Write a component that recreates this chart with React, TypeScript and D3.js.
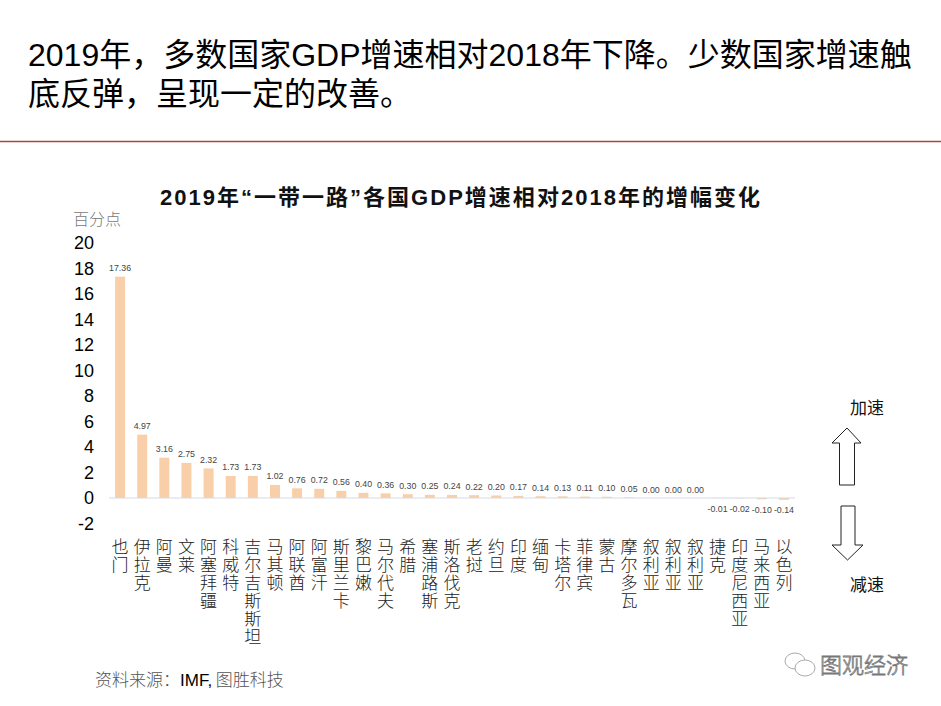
import React from "react";
import * as d3 from "d3";

const categories = ["也门","伊拉克","阿曼","文莱","阿塞拜疆","科威特","吉尔吉斯斯坦","马其顿","阿联酋","阿富汗","斯里兰卡","黎巴嫩","马尔代夫","希腊","塞浦路斯","斯洛伐克","老挝","约旦","印度","缅甸","卡塔尔","菲律宾","蒙古","摩尔多瓦","叙利亚","叙利亚","叙利亚","捷克","印度尼西亚","马来西亚","以色列"];
const values = [17.36,4.97,3.16,2.75,2.32,1.73,1.73,1.02,0.76,0.72,0.56,0.40,0.36,0.30,0.25,0.24,0.22,0.20,0.17,0.14,0.13,0.11,0.10,0.05,0.00,0.00,0.00,-0.01,-0.02,-0.10,-0.14];
const yTicks = [-2,0,2,4,6,8,10,12,14,16,18,20];

const W = 941, H = 706;
const SANS = "'Liberation Sans', Arial, 'Noto Sans CJK SC', sans-serif";
const CJK = "'Noto Sans CJK SC', sans-serif";

export default function App() {
  const x = d3.scaleBand<number>().domain(d3.range(categories.length)).range([109, 795]).paddingInner(0.55).paddingOuter(0.275);
  const y = d3.scaleLinear().domain([-2, 20]).range([523.5, 243]);
  const y0 = y(0);
  return (
    <svg width={W} height={H} style={{ position: "absolute", left: 0, top: 0, background: "#fff" }}>
      <rect x={0} y={0} width={W} height={H} fill="#fff" />
      <text x={28} y={66} fontSize={32} fontFamily={SANS} fill="#000">2019年，多数国家GDP增速相对2018年下降。少数国家增速触</text>
      <text x={28} y={105} fontSize={32} fontFamily={SANS} fill="#000">底反弹，呈现一定的改善。</text>
      <line x1={0} x2={W} y1={141.5} y2={141.5} stroke="#a8453f" strokeWidth={1.5} />

      <text x={160} y={205} textLength={600} lengthAdjust="spacing" fontSize={22} fontWeight="bold" fontFamily={SANS} fill="#111">2019年“一带一路”各国GDP增速相对2018年的增幅变化</text>
      <text x={73} y={225} fontSize={16} fontFamily={CJK} fontWeight={300} fill="#777">百分点</text>

      {yTicks.map((t) => (
        <text key={t} x={94} y={y(t)} dy="0.36em" textAnchor="end" fontSize={18} fontFamily={SANS} fill="#000">{t}</text>
      ))}

      {values.map((v, i) => {
        const bx = x(i) as number;
        const top = y(Math.max(0, v));
        const bot = y(Math.min(0, v));
        return (
          <g key={i}>
            <rect x={bx} y={top} width={x.bandwidth()} height={Math.max(0, bot - top)} fill="#f8cfa8" />
            <text x={bx + x.bandwidth() / 2} y={v < 0 ? bot + 13.5 : top - 5.5} textAnchor="middle" fontSize={8.8} fontFamily={SANS} fill="#444">{v.toFixed(2)}</text>
          </g>
        );
      })}
      <line x1={109} x2={795} y1={y0} y2={y0} stroke="#d3d9e2" strokeWidth={1.2} />

      {categories.map((c, i) => {
        const cx = (x(i) as number) + x.bandwidth() / 2;
        return (
          <text key={i} x={cx} y={538} fontSize={17} fontFamily={CJK} fontWeight={300} fill="#222"
            letterSpacing={1} style={{ writingMode: "vertical-rl", textOrientation: "upright" } as any}>
            {c}
          </text>
        );
      })}

      <text x={867} y={414} textAnchor="middle" fontSize={17} fontFamily={CJK} fill="#111">加速</text>
      <polygon points="847,428 861,443 854.5,443 854.5,485 839.5,485 839.5,443 832,443" fill="#fff" stroke="#222" strokeWidth={1} />
      <polygon points="841,506 855,506 855,545 863,545 847.5,560 832,545 841,545" fill="#fff" stroke="#222" strokeWidth={1} />
      <text x={867} y={591} textAnchor="middle" fontSize={17} fontFamily={CJK} fill="#111">减速</text>

      <text x={95} y={686} fontSize={17} fontFamily={CJK} fontWeight={300} fill="#555">
        资料来源：<tspan fontFamily={SANS} fontWeight="normal" fill="#000">IMF,</tspan> 图胜科技
      </text>

      <g fill="none" stroke="#aaa" strokeWidth={1}>
        <ellipse cx={795} cy={661} rx={10} ry={8} />
        <ellipse cx={805} cy={668} rx={10} ry={8} fill="#fff" />
      </g>
      <text x={820} y={673} fontSize={22} fontFamily={CJK} fontWeight={300} fill="#fff" stroke="#777" strokeWidth={0.8}>图观经济</text>
    </svg>
  );
}
